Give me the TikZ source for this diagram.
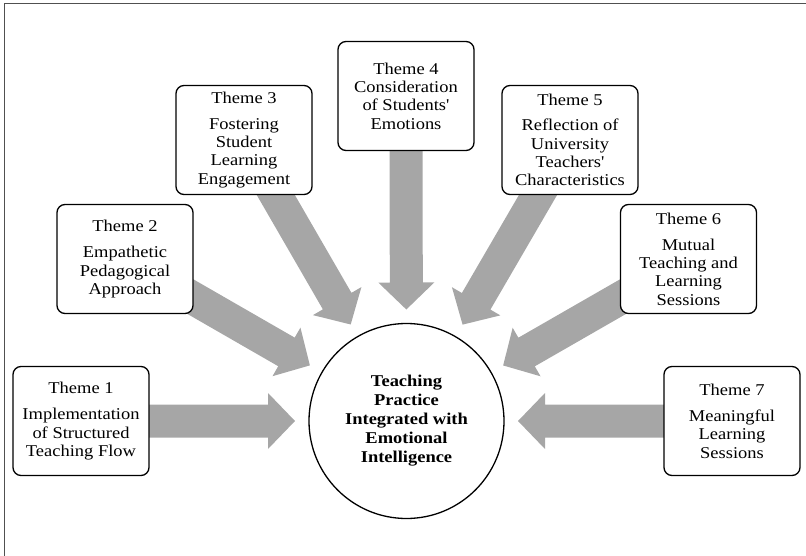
\documentclass[tikz,border=0pt]{standalone}
\usepackage{fontspec}
\setmainfont{Liberation Serif}[FakeStretch=1.12, Ligatures=TeXOff]
\usetikzlibrary{calc}
\pgfdeclarelayer{bg}
\pgfsetlayers{bg,main}
\definecolor{arrowgray}{RGB}{166,166,166}
\definecolor{framegray}{RGB}{80,80,80}
\tikzset{
  theme/.style={draw=black, line width=1.3pt, rounded corners=8pt, fill=white,
    minimum width=136pt, minimum height=109pt, inner sep=0pt, align=center,
    font=\fontsize{16.5}{18.3}\selectfont},
  hub/.style={circle, draw=black, line width=1.3pt, fill=white, minimum size=195pt,
    inner sep=0pt, align=center, font=\fontsize{16.5}{19}\selectfont\bfseries},
  frame/.style={draw=framegray, line width=1.2pt},
}
\newcommand\blockarrow[2]{%
  \path (#1.center) coordinate (bA) (#2) coordinate (bT);
  \path ($(bT)!27pt!(bA)$) coordinate (bB);
  \fill[arrowgray] ($(bA)!16.5pt!90:(bT)$) -- ($(bB)!16.5pt!90:(bT)$)
    -- ($(bB)!28pt!90:(bT)$) -- (bT) -- ($(bB)!28pt!-90:(bT)$)
    -- ($(bB)!16.5pt!-90:(bT)$) -- ($(bA)!16.5pt!-90:(bT)$) -- cycle;
}
\begin{document}
\begin{tikzpicture}[x=1pt, y=-1pt]
\useasboundingbox (0,0) rectangle (806,556);
\draw[frame] (4.5,556) -- (4.5,3.5) -- (806,3.5);

\node[hub] (hub) at (406.5,421) {Teaching\\Practice\\Integrated with\\Emotional\\Intelligence};

\node[theme] (t1) at (81,421) {Theme 1\\[8pt]Implementation\\of Structured\\Teaching Flow};
\node[theme] (t2) at (125,259) {Theme 2\\[8pt]Empathetic\\Pedagogical\\Approach};
\node[theme] (t3) at (244,140) {Theme 3\\[7pt]Fostering\\Student\\Learning\\Engagement};
\node[theme] (t4) at (406,96) {Theme 4\\Consideration\\of Students'\\Emotions};
\node[theme] (t5) at (570,140) {Theme 5\\[7pt]Reflection of\\University\\Teachers'\\Characteristics};
\node[theme] (t6) at (688.5,259) {Theme 6\\[8pt]Mutual\\Teaching and\\Learning\\Sessions};
\node[theme] (t7) at (732,421) {Theme 7\\[8pt]Meaningful\\Learning\\Sessions};

\foreach \i in {1,...,7} {
  \coordinate (tip\i) at ($(hub.center)!111.5pt!(t\i.center)$);
}

\begin{pgfonlayer}{bg}
\foreach \i in {1,...,7} {
  \blockarrow{t\i}{tip\i}
}
\end{pgfonlayer}
\end{tikzpicture}
\end{document}
